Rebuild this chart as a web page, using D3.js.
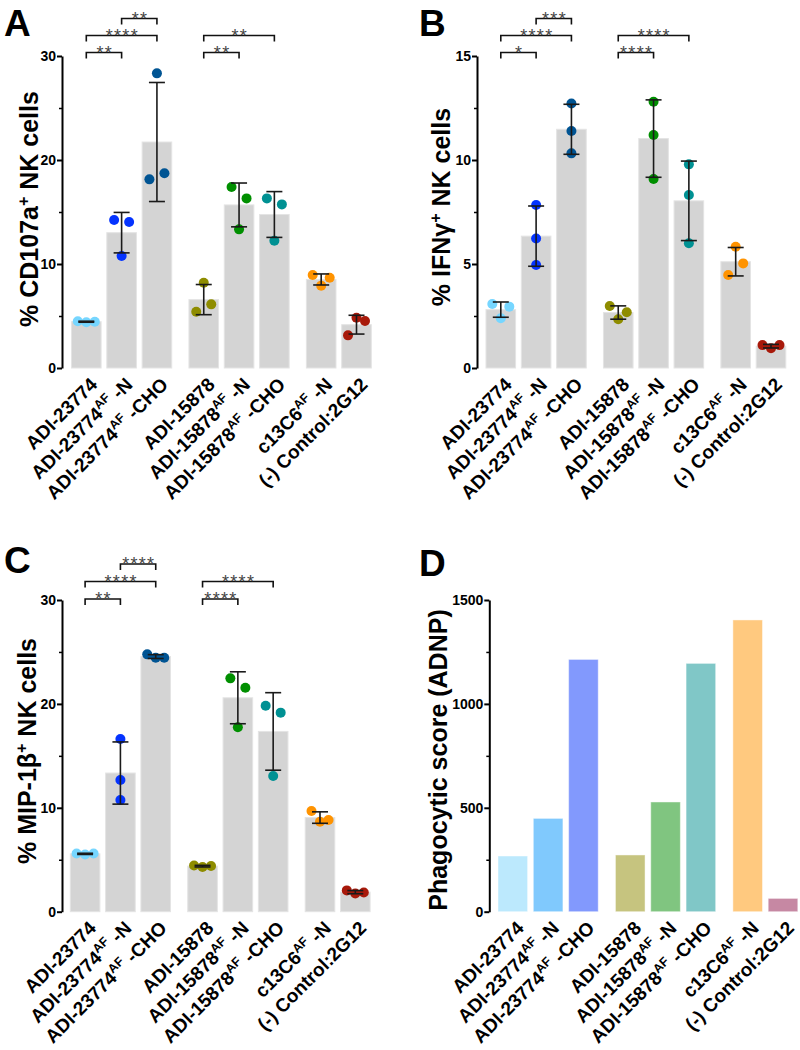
<!DOCTYPE html>
<html><head><meta charset="utf-8">
<script src="https://cdn.jsdelivr.net/npm/d3@7"></script>
<style>body{margin:0;background:#fff}svg{display:block}</style>
</head><body><svg id="chart" width="800" height="1050"></svg>
<script>
// ---------- DATA ----------
const labelBase   = ["ADI-23774","ADI-23774","ADI-23774","ADI-15878","ADI-15878","ADI-15878","c13C6","(-) Control:2G12"];
const labelSup    = ["","AF","AF","","AF","AF","AF",""];
const labelSuffix = [""," -N"," -CHO",""," -N"," -CHO"," -N",""];
const categories  = labelBase.map((b,i)=>b+labelSup[i]+labelSuffix[i]);
const groups      = [0,0,0,1,1,1,2,2];

const pointColors = ["#76D6FF","#0433FF","#005493","#8E8C00","#008F00","#009193","#FF9300","#A8190A"];
const barColorsD  = ["#bce9fd","#80c9fd","#8299fd","#c6c47f","#80c580","#80c7c7","#ffc97f","#c688a3"];

const pointsA = [[4.5,4.4,4.45],[14.23,14.04,10.77],[18.14,28.33,18.72],[5.41,8.2,6.12],[17.4,16.31,13.33],[16.31,15.73,12.24],[8.94,7.92,8.68],[3.14,4.84,4.52]];
const pointsB = [[3.08,2.39,2.95],[7.84,6.23,4.95],[12.72,11.39,10.32],[2.98,2.34,2.68],[12.8,11.2,9.09],[9.79,8.32,6.0],[4.47,5.83,5.03],[1.1,0.95,1.1]];
const pointsC = [[5.6,5.5,5.6],[16.62,12.67,10.75],[24.77,24.45,24.45],[4.45,4.3,4.4],[22.46,21.56,17.75],[19.83,19.16,13.06],[9.69,8.66,8.83],[2.05,1.75,1.85]];
const valuesD = [268,449,1214,273,528,1195,1404,64];

const ticksA = [0,10,20,30],  minorA = [5,15,25];
const ticksB = [0,5,10,15],   minorB = [2.5,7.5,12.5];
const ticksC = [0,10,20,30],  minorC = [5,15,25];
const ticksD = [0,500,1000,1500], minorD = [250,750,1250];

const titleA = ["% CD107a","+"," NK cells"];
const titleB = ["% IFNγ","+"," NK cells"];
const titleC = ["% MIP-1β","+"," NK cells"];
const titleD = ["Phagocytic score (ADNP)","",""];

// significance: [from, to, level, stars]
const sigA = [[0,1,0,"**"],[0,2,1,"****"],[1,2,2,"**"],[3,4,0,"**"],[3,5,1,"**"]];
const sigB = [[0,1,0,"*"],[0,2,1,"****"],[1,2,2,"***"],[3,4,0,"****"],[3,5,1,"****"]];
const sigC = [[0,1,0,"**"],[0,2,1,"****"],[1,2,2,"****"],[3,4,0,"****"],[3,5,1,"****"]];

// ---------- LAYOUT ----------
const FONT = "'Liberation Sans', Arial, Helvetica, sans-serif";
const svg = d3.select("#chart");

const panels = [
  {letter:"A", lx:4,   ly:36,  axisX:62,  yTop:56,  yBot:368,   first:24,   points:pointsA, ticks:ticksA, minor:minorA, title:titleA, tx:37.5, ty:209, sig:sigA, lvl:[-3.5,-20.5,-37.5]},
  {letter:"B", lx:419, ly:36,  axisX:477, yTop:56,  yBot:368,   first:23.5, points:pointsB, ticks:ticksB, minor:minorB, title:titleB, tx:450,  ty:207, sig:sigB, lvl:[-3.5,-20.5,-37.5]},
  {letter:"C", lx:4,   ly:573, axisX:62,  yTop:600, yBot:911.7, first:22.8, points:pointsC, ticks:ticksC, minor:minorC, title:titleC, tx:36,   ty:751, sig:sigC, lvl:[-1,-18.5,-36]},
  {letter:"D", lx:419, ly:576, axisX:489.3, yTop:600, yBot:911.7, first:23.2, values:valuesD, ticks:ticksD, minor:minorD, title:titleD, tx:447, ty:760}
];

const STEP = 34.6, GAP = 11.5, BARW = 29;

function swarm(vals, y){
  const T = 15;
  const idx = vals.map((v,i)=>i).sort((a,b)=>vals[b]-vals[a]);
  const clusters=[]; let cur=[idx[0]];
  for(let k=1;k<idx.length;k++){
    if(Math.abs(y(vals[idx[k]])-y(vals[idx[k-1]]))<T) cur.push(idx[k]);
    else {clusters.push(cur); cur=[idx[k]];}
  }
  clusters.push(cur);
  const off = vals.map(()=>0);
  clusters.forEach(c=>{
    c.sort((a,b)=>a-b);
    const n=c.length, sp = n===1?0:Math.min(15,17/(n-1));
    c.forEach((i,k)=>off[i]=(k-(n-1)/2)*sp);
  });
  return off;
}

panels.forEach(p=>{
  const g = svg.append("g");
  const yMax = p.ticks[p.ticks.length-1];
  const y = d3.scaleLinear().domain([0,yMax]).range([p.yBot,p.yTop]);
  const band = d3.scaleBand().domain(categories).range([0, STEP*categories.length]).paddingInner((STEP-BARW)/STEP).paddingOuter(0).align(0);
  const cx = (c,i) => p.axisX + p.first - BARW/2 + band(c) + groups[i]*GAP + band.bandwidth()/2;

  // bars
  const barVals = p.values ? p.values : p.points.map(v=>d3.mean(v));
  g.selectAll("rect.bar").data(categories).join("rect")
    .attr("x",(c,i)=>cx(c,i)-band.bandwidth()/2)
    .attr("width",band.bandwidth())
    .attr("y",(c,i)=>y(barVals[i]))
    .attr("height",(c,i)=>p.yBot-y(barVals[i]))
    .attr("fill",(c,i)=>p.values? barColorsD[i] : "#d4d4d4")
    .attr("stroke",(c,i)=>p.values? "rgba(255,255,255,0.45)" : "#e4e4e4")
    .attr("stroke-width",1);

  if(p.points){
    // points
    p.points.forEach((vals,i)=>{
      const c = categories[i];
      const off = swarm(vals,y);
      g.selectAll(null).data(vals).join("circle")
        .attr("cx",(v,k)=>cx(c,i)+off[k])
        .attr("cy",v=>y(v))
        .attr("r",5)
        .attr("fill",pointColors[i]);
      // error bars (mean ± SD)
      const m=d3.mean(vals), sd=d3.deviation(vals);
      const x0=cx(c,i);
      const eg=g.append("g").attr("stroke","#1a1a1a").attr("stroke-width",1.6).attr("fill","none");
      eg.append("line").attr("x1",x0).attr("x2",x0).attr("y1",y(m-sd)).attr("y2",y(m+sd));
      [m-sd,m+sd].forEach(v=>eg.append("line").attr("x1",x0-8).attr("x2",x0+8).attr("y1",y(v)).attr("y2",y(v)));
    });
    // significance brackets
    p.sig.forEach(([a,b,l,t])=>{
      const x1=cx(categories[a],a), x2=cx(categories[b],b), yy=p.yTop+p.lvl[l];
      g.append("path").attr("d",`M${x1},${yy+6}V${yy}H${x2}V${yy+6}`)
        .attr("fill","none").attr("stroke","#111").attr("stroke-width",1.6);
      g.append("text").attr("x",(x1+x2)/2+0.75).attr("y",yy+6)
        .attr("text-anchor","middle").attr("font-family",FONT).attr("font-size",18)
        .attr("letter-spacing","1.3px").attr("fill","#444").text(t);
    });
  }

  // axis
  const ax = g.append("g").attr("transform",`translate(${p.axisX},0)`)
    .call(d3.axisLeft(y).tickValues(p.ticks).tickSize(5).tickSizeOuter(0).tickPadding(1).tickFormat(d3.format("d")));
  ax.select(".domain").attr("stroke","#000").attr("stroke-width",2);
  ax.selectAll(".tick line").attr("stroke","#000").attr("stroke-width",2);
  ax.selectAll("text").attr("font-family",FONT).attr("font-size",14).attr("font-weight","bold").attr("fill","#000");
  const axm = g.append("g").attr("transform",`translate(${p.axisX},0)`)
    .call(d3.axisLeft(y).tickValues(p.minor).tickSize(3).tickFormat(""));
  axm.select(".domain").remove();
  axm.selectAll(".tick line").attr("stroke","#000").attr("stroke-width",1.5);

  // x labels
  categories.forEach((c,i)=>{
    const t = g.append("text")
      .attr("transform",`translate(${cx(c,i)+2.5},${p.yBot+8}) rotate(-45)`)
      .attr("text-anchor","end").attr("font-family",FONT).attr("font-size",19)
      .attr("font-weight","bold").attr("fill","#000");
    t.append("tspan").attr("dy","0.72em").text(labelBase[i]);
    if(labelSup[i]){
      t.append("tspan").attr("dy",-7.5).attr("font-size",12.5).text(labelSup[i]);
      t.append("tspan").attr("dy",7.5).text(labelSuffix[i]);
    }
  });

  // y title
  const tt = g.append("text").attr("transform",`translate(${p.tx},${p.ty}) rotate(-90)`)
    .attr("text-anchor","middle").attr("font-family",FONT).attr("font-size",25)
    .attr("font-weight","bold").attr("fill","#000");
  tt.append("tspan").text(p.title[0]);
  if(p.title[1]){
    tt.append("tspan").attr("dy",-9).attr("font-size",16).text(p.title[1]);
    tt.append("tspan").attr("dy",9).text(p.title[2]);
  }

  // panel letter
  g.append("text").attr("x",p.lx).attr("y",p.ly).attr("font-family",FONT)
    .attr("font-size",37).attr("font-weight","bold").attr("fill","#000").text(p.letter);
});
</script></body></html>
